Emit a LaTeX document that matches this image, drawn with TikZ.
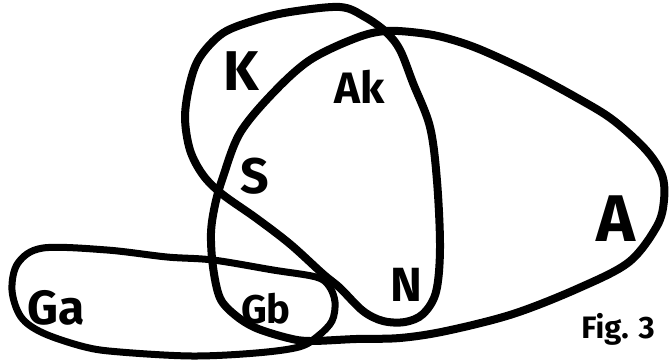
\documentclass[tikz,border=0pt]{standalone}
\usepackage{fontspec}
\setmainfont{Fira Sans}
\usepackage{tikz}

\begin{document}
\begin{tikzpicture}[x=1pt, y=-1pt, thick,
  setline/.style={line width=8pt, line join=round},
  lbl/.style={inner sep=0pt, anchor=base, font=\bfseries\fontsize{#1}{#1}\selectfont}]
  \useasboundingbox (0,0) rectangle (669,362);

  \draw[setline] plot[smooth cycle, tension=0.55] coordinates {
    (340,7) (365,17) (386,32) (400,50) (413,83) (430,127) (437,181) (440,248)
    (436,292) (423,314) (405,322) (383,321) (363,311) (340,288) (323,274)
    (290,244) (256,218) (222,194) (203,175) (190,150) (185,117) (190,83)
    (200,57) (223,33) (256,20) (290,12)};

  \draw[setline] plot[smooth cycle, tension=0.55] coordinates {
    (386,31) (420,33) (446,38) (479,49) (529,72) (579,99) (613,120) (646,150)
    (662,175) (664,200) (657,226) (629,262) (579,288) (513,314) (446,331)
    (400,338) (356,339) (310,341) (288,338) (256,328) (235,315) (220,298)
    (213,267) (211,233) (215,205) (223,177) (240,133) (273,93) (310,60) (356,38)};

  \draw[setline, line width=7pt] plot[smooth cycle, tension=0.55] coordinates {
    (43,248) (107,250) (167,257) (213,260) (273,270) (316,277) (329,286)
    (335,302) (332,321) (318,336) (299,347) (256,353) (192,356) (120,352)
    (85,347) (43,333) (21,317) (12,290) (18,263)};

  \node[lbl=56] (K) at (241,90) {K};
  \node[lbl=44] (Ak) at (360,103) {Ak};
  \node[lbl=50] (S) at (255,193) {S};
  \node[lbl=48] (N) at (406,301) {N};
  \node[lbl=66] (A) at (616,241) {A};
  \node[lbl=48] (Ga) at (56,324) {Ga};
  \node[lbl=40] (Gb) at (266,323) {Gb};
  \node[lbl=31] (fig) at (618,338) {Fig. 3};
\end{tikzpicture}
\end{document}
